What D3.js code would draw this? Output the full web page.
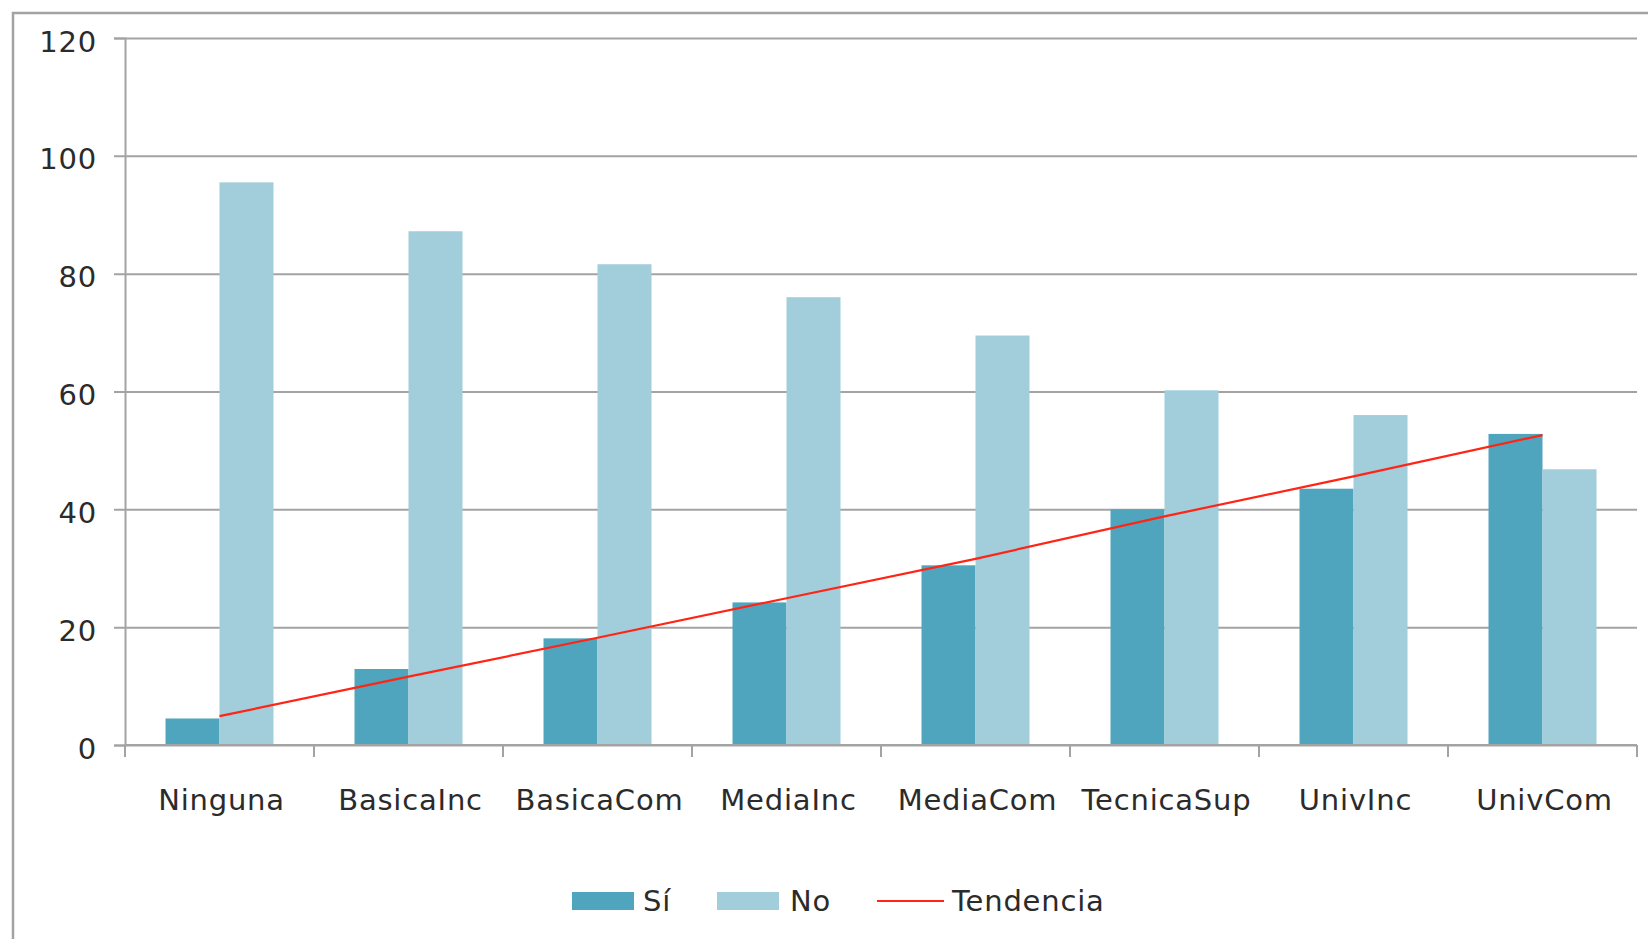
<!DOCTYPE html>
<html>
<head>
<meta charset="utf-8">
<script src="https://cdn.jsdelivr.net/npm/d3@7"></script>
<style>
  html, body { margin: 0; padding: 0; background: #fff; }
  svg text { font-family: "DejaVu Sans", Verdana, sans-serif; fill: #2b2b2b; letter-spacing: 0.8px; }
</style>
</head>
<body>
<div id="mainDiv"></div>
<script>
'use strict';

var categories = ['Ninguna', 'BasicaInc', 'BasicaCom', 'MediaInc', 'MediaCom', 'TecnicaSup', 'UnivInc', 'UnivCom'];
var siValues = [4.5, 12.9, 18.1, 24.2, 30.5, 40.0, 43.5, 52.8];
var noValues = [95.5, 87.2, 81.6, 76.0, 69.5, 60.2, 56.0, 46.8];
var trendValues = [4.9, 11.6, 18.2, 24.9, 31.6, 38.8, 45.6, 52.6];
var yTicks = [0, 20, 40, 60, 80, 100, 120];
var seriesNames = ['Sí', 'No'];

var chart = {};

chart.width = 1648;
chart.height = 939;
chart.plot = { left: 125, right: 1637, top: 38, bottom: 745 };
chart.colors = { 'Sí': '#50a5be', 'No': '#a2cddb' };
chart.trendColor = '#ff2414';
chart.gridColor = '#a3a3a3';

chart.run = function () {
    var svg = d3.select('#mainDiv').append('svg')
        .attr('width', chart.width)
        .attr('height', chart.height);

    // outer frame, cut by the window on the right and bottom
    svg.append('rect')
        .attr('x', 13).attr('y', 13)
        .attr('width', 1700).attr('height', 1000)
        .attr('fill', 'none')
        .attr('stroke', chart.gridColor)
        .attr('stroke-width', 2.5);

    var p = chart.plot;

    var yScale = d3.scaleLinear().domain([0, 120]).range([p.bottom, p.top]);
    var x0 = d3.scaleBand().domain(categories).range([p.left, p.right]).padding(0);
    var step = x0.step();
    var groupW = step * 2 / 3.5;   // gap width 150%
    var x1 = d3.scaleBand().domain(seriesNames)
        .range([(step - groupW) / 2, (step + groupW) / 2]);

    // y axis, grid and labels
    var gy = svg.append('g')
        .attr('transform', 'translate(' + p.left + ',0)')
        .call(d3.axisLeft(yScale).tickValues(yTicks).tickSize(11));
    gy.select('.domain').attr('stroke', chart.gridColor).attr('stroke-width', 2);
    gy.selectAll('.tick line')
        .attr('x1', -11)
        .attr('x2', p.right - p.left)
        .attr('stroke', chart.gridColor)
        .attr('stroke-width', 2);
    gy.selectAll('.tick text')
        .attr('x', -28)
        .attr('dy', null)
        .attr('y', 13)
        .attr('font-size', '29px')
        .attr('font-family', null)
        .attr('fill', null);

    // bars
    var groups = svg.append('g').selectAll('g')
        .data(categories)
        .enter().append('g')
        .attr('transform', function (d) { return 'translate(' + x0(d) + ',0)'; });

    groups.selectAll('rect')
        .data(function (d, i) {
            return [{ key: 'Sí', value: siValues[i] }, { key: 'No', value: noValues[i] }];
        })
        .enter().append('rect')
        .attr('x', function (d) { return x1(d.key); })
        .attr('y', function (d) { return yScale(d.value); })
        .attr('width', x1.bandwidth())
        .attr('height', function (d) { return p.bottom - yScale(d.value); })
        .attr('fill', function (d) { return chart.colors[d.key]; });

    // x axis
    var xAxisG = svg.append('g')
        .attr('transform', 'translate(0,' + p.bottom + ')');
    xAxisG.append('line')
        .attr('x1', p.left).attr('x2', p.right)
        .attr('stroke', chart.gridColor).attr('stroke-width', 2);
    var bounds = categories.map(function (c) { return x0(c); }).concat([p.right]);
    xAxisG.selectAll('.xt')
        .data(bounds)
        .enter().append('line')
        .attr('class', 'xt')
        .attr('x1', function (d) { return d; })
        .attr('x2', function (d) { return d; })
        .attr('y1', 0).attr('y2', 12)
        .attr('stroke', chart.gridColor).attr('stroke-width', 2);
    xAxisG.selectAll('text')
        .data(categories)
        .enter().append('text')
        .attr('x', function (d) { return x0(d) + step / 2 + 2; })
        .attr('y', 65)
        .attr('text-anchor', 'middle')
        .attr('font-size', '29px')
        .text(function (d) { return d; });

    // Tendencia line
    var line = d3.line()
        .x(function (d, i) { return x0(categories[i]) + step / 2; })
        .y(function (d) { return yScale(d); });
    svg.append('path')
        .datum(trendValues)
        .attr('d', line)
        .attr('fill', 'none')
        .attr('stroke', chart.trendColor)
        .attr('stroke-width', 2.2);

    // legend
    var lg = svg.append('g').attr('transform', 'translate(0,901)');
    lg.append('rect').attr('x', 572).attr('y', -9).attr('width', 62).attr('height', 18)
        .attr('fill', chart.colors['Sí']);
    lg.append('text').attr('x', 643).attr('y', 10).attr('font-size', '29px').text('Sí');
    lg.append('rect').attr('x', 717).attr('y', -9).attr('width', 62).attr('height', 18)
        .attr('fill', chart.colors['No']);
    lg.append('text').attr('x', 790).attr('y', 10).attr('font-size', '29px').text('No');
    lg.append('line').attr('x1', 877).attr('x2', 944).attr('y1', 0).attr('y2', 0)
        .attr('stroke', chart.trendColor).attr('stroke-width', 2.2);
    lg.append('text').attr('x', 952).attr('y', 10).attr('font-size', '29px').text('Tendencia');
};

window.onload = chart.run;
</script>
</body>
</html>
